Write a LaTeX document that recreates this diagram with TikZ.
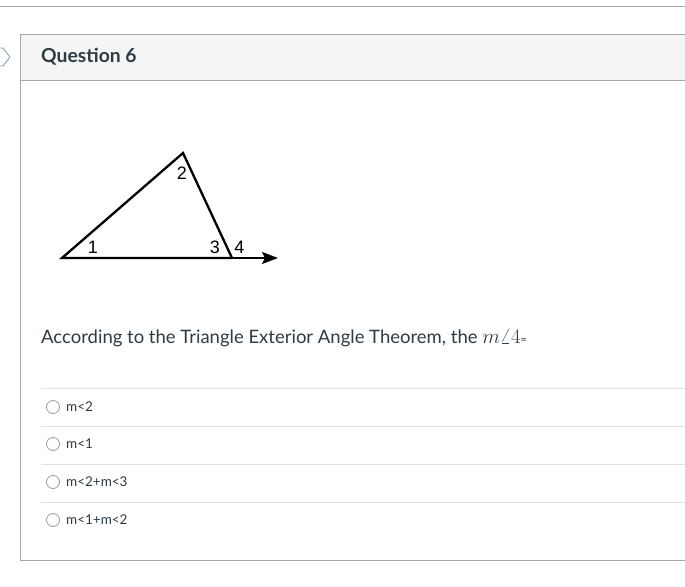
\documentclass[tikz,border=0pt]{standalone}
\usepackage{fontspec}
\setmainfont{Lato}
\newfontfamily\arialfont{Liberation Sans}
\usetikzlibrary{arrows.meta}
\definecolor{framegray}{HTML}{A8A8A8}
\definecolor{headbg}{HTML}{F5F5F5}
\definecolor{sepgray}{HTML}{E0E0E0}
\definecolor{txt}{HTML}{2D3B45}
\definecolor{navblue}{HTML}{7A9CB8}
\tikzset{
  lbl/.style={font=\arialfont\fontsize{18}{18}\selectfont, inner sep=0pt},
  opt/.style={font=\fontsize{13.5}{16}\selectfont, text=txt, anchor=base west, inner sep=0pt},
  radio/.style={circle, draw=gray!80, line width=0.8pt, minimum size=13pt, inner sep=0pt},
  sep/.style={draw=sepgray, line width=0.8pt},
}
\begin{document}
\begin{tikzpicture}[x=1pt,y=-1pt]
\useasboundingbox (0,0) rectangle (685,586);
% top line
\draw[framegray, line width=1pt] (0,7) -- (685,7);
% header
\fill[headbg] (20,35) rectangle (686,80);
\draw[framegray, line width=1pt] (686,35) -- (20,35) -- (20,560) -- (686,560);
\draw[framegray, line width=1pt] (20,80) -- (686,80);
% nav marker
\draw[navblue, line width=0.8pt] (-5,48) -- (3,48) -- (10,57) -- (3,66) -- (-5,66);
\node[anchor=base west, inner sep=0pt, font=\fontsize{19.3}{22}\selectfont\bfseries, text=txt] (qtitle) at (41,63) {Question 6};
% triangle
\coordinate (A) at (62,258);
\coordinate (B) at (183,153);
\coordinate (C) at (232,258);
\coordinate (E) at (278,258);
\draw[line width=2.3pt, line join=miter] (C) -- (A) -- (B) -- (C);
\draw[line width=2.3pt, -{Stealth[length=16pt,width=12pt,inset=3pt]}] (C) -- (E);
\node[lbl] (l1) at (93,247) {1};
\node[lbl] (l2) at (182,173) {2};
\node[lbl] (l3) at (215,247) {3};
\node[lbl] (l4) at (239.5,247) {4};
% question
\node[anchor=base west, inner sep=0pt, font=\fontsize{18.5}{22}\selectfont, text=txt] (q) at (41,343)
  {According to the Triangle Exterior Angle Theorem, the \fontsize{21}{22}\selectfont$m\angle 4$\fontsize{11}{22}\selectfont=};
% separators
\foreach \y in {388,426,464,502} \draw[sep] (41,\y) -- (686,\y);
% options
\node[radio] (r1) at (53,407) {};
\node[radio] (r2) at (53,444) {};
\node[radio] (r3) at (53,482) {};
\node[radio] (r4) at (53,520) {};
\node[opt] (o1) at (66,411.5) {m<2};
\node[opt] (o2) at (66,448.5) {m<1};
\node[opt] (o3) at (66,486.5) {m<2+m<3};
\node[opt] (o4) at (66,524.5) {m<1+m<2};
\end{tikzpicture}
\end{document}
